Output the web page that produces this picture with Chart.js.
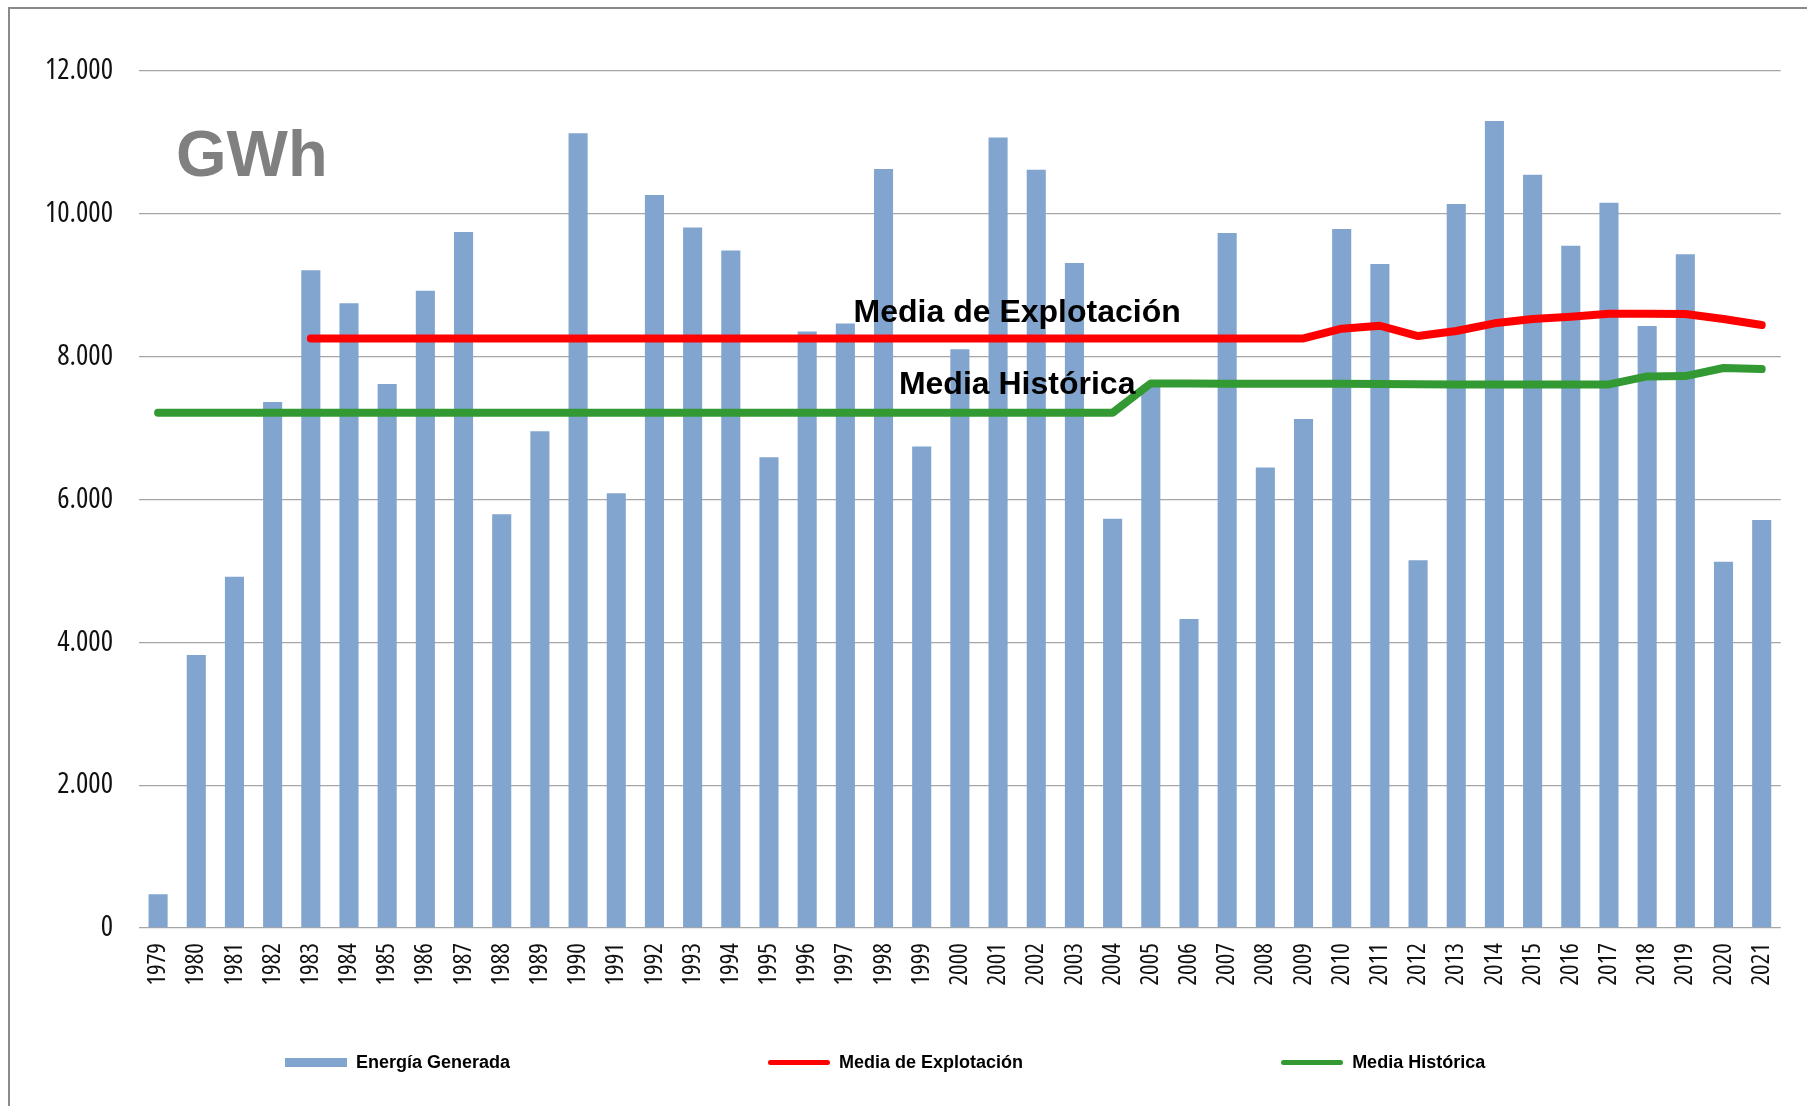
<!DOCTYPE html>
<html>
<head>
<meta charset="utf-8">
<title>Energía Generada</title>
<script src="https://cdn.jsdelivr.net/npm/chart.js@4.4.1/dist/chart.umd.min.js"></script>
<style>
  html, body { margin: 0; padding: 0; background: #fff; overflow: hidden; }
  #frame { position: absolute; left: 8px; top: 7px; width: 1900px; height: 1200px;
           border-left: 2px solid #8a8a8a; border-top: 2px solid #8a8a8a; }
  #wrap { position: absolute; left: 0; top: 0; width: 1807px; height: 1106px; }
  #legend { position: absolute; left: 285px; top: 1051px; display: flex; gap: 258px;
            font: bold 18px "Liberation Sans", Arial, sans-serif; line-height: 22px; color: #000; }
  .item { display: flex; align-items: center; }
  .swatch { display: inline-block; width: 62px; margin-right: 9px; }
</style>
</head>
<body>
<div id="frame"></div>
<div id="wrap"><canvas id="chart"></canvas></div>
<div id="legend"></div>
<script>
// Data
var years = ["1979", "1980", "1981", "1982", "1983", "1984", "1985", "1986", "1987", "1988",
  "1989", "1990", "1991", "1992", "1993", "1994", "1995", "1996", "1997", "1998",
  "1999", "2000", "2001", "2002", "2003", "2004", "2005", "2006", "2007", "2008",
  "2009", "2010", "2011", "2012", "2013", "2014", "2015", "2016", "2017", "2018",
  "2019", "2020", "2021"];

var energiaGenerada = [472, 3823, 4919, 7365, 9209, 8747, 7617, 8924, 9745, 5792,
  6955, 11127, 6086, 10263, 9810, 9486, 6593, 8353, 8464, 10629,
  6743, 8103, 11068, 10619, 9312, 5731, 7600, 4327, 9732, 6449,
  7127, 9787, 9297, 5148, 10137, 11299, 10548, 9554, 10156, 8429,
  9433, 5129, 5713];

var mediaExplotacion = [null, null, null, null, 8255, 8255, 8255, 8255, 8255, 8255,
  8255, 8255, 8255, 8255, 8255, 8255, 8255, 8255, 8255, 8255,
  8255, 8255, 8255, 8255, 8255, 8255, 8255, 8255, 8255, 8255,
  8255, 8391, 8433, 8289, 8359, 8467, 8527, 8560, 8601, 8601,
  8598, 8527, 8443];

var mediaHistorica = [7215, 7215, 7215, 7215, 7215, 7215, 7215, 7215, 7215, 7215,
  7215, 7215, 7215, 7215, 7215, 7215, 7215, 7215, 7215, 7215,
  7215, 7215, 7215, 7215, 7215, 7215, 7625, 7623, 7622, 7621,
  7621, 7621, 7616, 7613, 7612, 7612, 7612, 7612, 7612, 7724,
  7728, 7841, 7827];

var yTicks = [0, 2000, 4000, 6000, 8000, 10000, 12000];
var unitLabel = "GWh";

var BAR_COLOR = "#82a5cf";
var RED = "#ff0000";
var GREEN = "#339933";
var tickFont = '"Open Sans", "DejaVu Sans Condensed", sans-serif';
var boldFont = '"Liberation Sans", Arial, sans-serif';

function fmt(v) {
  // 12000 -> 12.000
  return String(v).replace(/\B(?=(\d{3})+(?!\d))/g, ".");
}

// draws the GWh unit and the two line captions
var captions = {
  id: "captions",
  afterDatasetsDraw: function (chart) {
    var ctx = chart.ctx, x = chart.scales.x, y = chart.scales.y;
    ctx.save();
    ctx.textBaseline = "alphabetic";
    ctx.fillStyle = "#808080";
    ctx.font = "bold 65px " + boldFont;
    ctx.textAlign = "left";
    ctx.fillText(unitLabel, chart.chartArea.left + 37, y.getPixelForValue(10530));

    ctx.fillStyle = "#000";
    ctx.font = "bold 32px " + boldFont;
    ctx.textAlign = "center";
    var cx = x.getPixelForValue(22.5);
    ctx.fillText(chart.data.datasets[1].label, cx, y.getPixelForValue(8490));
    ctx.fillText(chart.data.datasets[2].label, cx, y.getPixelForValue(7477));
    ctx.restore();
  },
};

var ctx = document.getElementById("chart").getContext("2d");
var chart = new Chart(ctx, {
  type: "bar",
  data: {
    labels: years,
    datasets: [
      {
        type: "bar",
        label: "Energía Generada",
        data: energiaGenerada,
        backgroundColor: BAR_COLOR,
        barPercentage: 0.5,
        categoryPercentage: 1.0,
        order: 3,
      },
      {
        type: "line",
        label: "Media de Explotación",
        data: mediaExplotacion,
        borderColor: RED,
        backgroundColor: RED,
        borderWidth: 8,
        pointRadius: 0,
        tension: 0,
        borderCapStyle: "round",
        borderJoinStyle: "round",
        order: 1,
      },
      {
        type: "line",
        label: "Media Histórica",
        data: mediaHistorica,
        borderColor: GREEN,
        backgroundColor: GREEN,
        borderWidth: 8,
        pointRadius: 0,
        tension: 0,
        borderCapStyle: "round",
        borderJoinStyle: "round",
        order: 2,
      },
    ],
  },
  options: {
    responsive: true,
    maintainAspectRatio: false,
    animation: false,
    layout: { padding: { top: 71, right: 26, left: 0, bottom: 0 } },
    plugins: { legend: { display: false }, tooltip: { enabled: false } },
    scales: {
      x: {
        grid: { display: false, drawTicks: false },
        border: { display: false },
        ticks: {
          autoSkip: false,
          maxRotation: 90,
          minRotation: 90,
          padding: 15,
          color: "#111",
          // weight slot also carries the font-stretch keyword
          font: { family: tickFont, size: 25, weight: "normal condensed" },
        },
        afterFit: function (scale) { scale.height = 178; },
      },
      y: {
        min: 0,
        max: 12000,
        afterBuildTicks: function (scale) {
          scale.ticks = yTicks.map(function (v) { return { value: v }; });
        },
        grid: { color: "#a6a6a6", lineWidth: 1.3, drawTicks: false },
        border: { display: false },
        ticks: {
          padding: 26,
          color: "#111",
          font: { family: tickFont, size: 29, weight: "normal condensed" },
          callback: function (v) { return fmt(v); },
        },
        afterFit: function (scale) { scale.width = 139; },
      },
    },
  },
  plugins: [captions],
});

// Legend built from the datasets
var legend = document.getElementById("legend");
chart.data.datasets.forEach(function (ds) {
  var item = document.createElement("div");
  item.className = "item";
  var sw = document.createElement("span");
  sw.className = "swatch";
  sw.style.background = ds.type === "bar" ? ds.backgroundColor : ds.borderColor;
  sw.style.height = ds.type === "bar" ? "9px" : "5px";
  if (ds.type !== "bar") sw.style.borderRadius = "3px";
  var txt = document.createElement("span");
  txt.textContent = ds.label;
  item.appendChild(sw);
  item.appendChild(txt);
  legend.appendChild(item);
});
</script>
</body>
</html>
